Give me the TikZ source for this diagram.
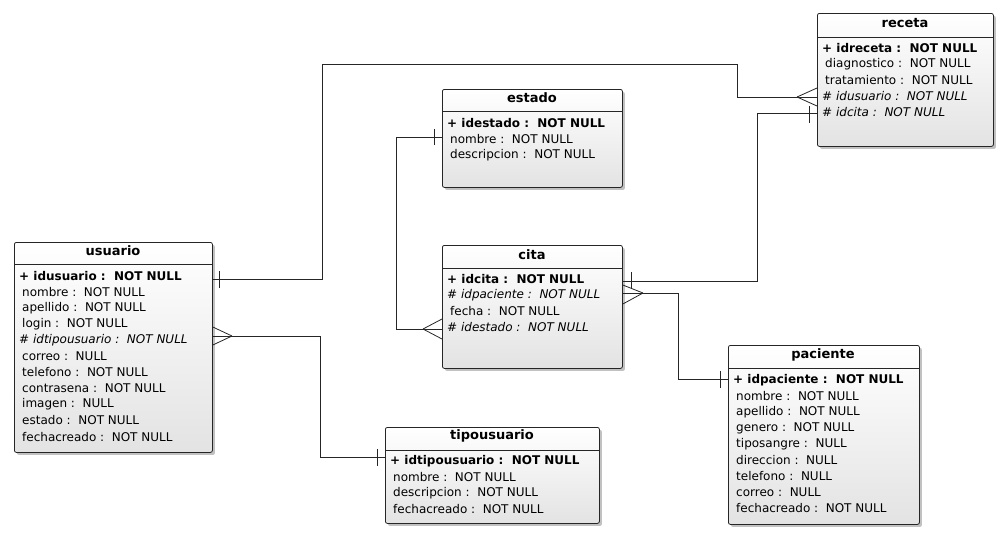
\documentclass[tikz,border=0pt]{standalone}
\usepackage{fontspec}
\setmainfont{DejaVu Sans}
\usetikzlibrary{shadows}
\begin{document}
\begin{tikzpicture}[x=1pt,y=-1pt,
  entity/.style={draw=black!85, line width=0.8pt, rounded corners=2pt,
    top color=white, bottom color=black!11,
    drop shadow={shadow xshift=2.5pt,shadow yshift=-2.5pt,opacity=0.35,fill=black!70},
    anchor=north west, inner sep=0pt},
  sep/.style={draw=black!85, line width=0.8pt},
  ttl/.style={font=\fontsize{13}{15}\selectfont\bfseries, inner sep=0pt},
  pk/.style={font=\fontsize{12}{14}\selectfont\bfseries, anchor=west, inner sep=0pt},
  fk/.style={font=\fontsize{12}{14}\selectfont\itshape, anchor=west, inner sep=0pt},
  att/.style={font=\fontsize{12}{14}\selectfont, anchor=west, inner sep=0pt},
  rel/.style={draw=black!85, line width=0.8pt}]
\useasboundingbox (0,0) rectangle (1008,539);

% ---------- receta ----------
\node[entity, minimum width=176pt, minimum height=133pt] (receta) at (817,13) {};
\draw[sep] (817,37) -- (993,37);
\node[ttl] (receta-t) at (905,23) {receta};
\node[pk] (receta-1) at (822,48) {+ idreceta :\ \ NOT NULL};
\node[att] (receta-2) at (825,64) {diagnostico :\ \ NOT NULL};
\node[att] (receta-3) at (825,80) {tratamiento :\ \ NOT NULL};
\node[fk] (receta-4) at (822,96) {\# idusuario :\ \ NOT NULL};
\node[fk] (receta-5) at (822,112) {\# idcita :\ \ NOT NULL};

% ---------- estado ----------
\node[entity, minimum width=180pt, minimum height=98pt] (estado) at (442,89) {};
\draw[sep] (442,111) -- (622,111);
\node[ttl] (estado-t) at (532,98) {estado};
\node[pk] (estado-1) at (447,123) {+ idestado :\ \ NOT NULL};
\node[att] (estado-2) at (450,139) {nombre :\ \ NOT NULL};
\node[att] (estado-3) at (450,155) {descripcion :\ \ NOT NULL};

% ---------- usuario ----------
\node[entity, minimum width=198pt, minimum height=210pt] (usuario) at (14,242) {};
\draw[sep] (14,264) -- (212,264);
\node[ttl] (usuario-t) at (113,251) {usuario};
\node[pk] (usuario-1) at (19,276) {+ idusuario :\ \ NOT NULL};
\node[att] (usuario-2) at (22,292) {nombre :\ \ NOT NULL};
\node[att] (usuario-3) at (22,308) {apellido :\ \ NOT NULL};
\node[att] (usuario-4) at (22,324) {login :\ \ NOT NULL};
\node[fk] (usuario-5) at (19,340) {\# idtipousuario :\ \ NOT NULL};
\node[att] (usuario-6) at (22,356) {correo :\ \ NULL};
\node[att] (usuario-7) at (22,372) {telefono :\ \ NOT NULL};
\node[att] (usuario-8) at (22,388) {contrasena :\ \ NOT NULL};
\node[att] (usuario-9) at (22,404) {imagen :\ \ NULL};
\node[att] (usuario-10) at (22,420) {estado :\ \ NOT NULL};
\node[att] (usuario-11) at (22,437) {fechacreado :\ \ NOT NULL};

% ---------- cita ----------
\node[entity, minimum width=180pt, minimum height=123pt] (cita) at (442,245) {};
\draw[sep] (442,268) -- (622,268);
\node[ttl] (cita-t) at (532,255) {cita};
\node[pk] (cita-1) at (447,279) {+ idcita :\ \ NOT NULL};
\node[fk] (cita-2) at (447,295) {\# idpaciente :\ \ NOT NULL};
\node[att] (cita-3) at (450,311) {fecha :\ \ NOT NULL};
\node[fk] (cita-4) at (447,327) {\# idestado :\ \ NOT NULL};

% ---------- paciente ----------
\node[entity, minimum width=191pt, minimum height=179pt] (paciente) at (728,345) {};
\draw[sep] (728,368) -- (919,368);
\node[ttl] (paciente-t) at (823,355) {paciente};
\node[pk] (paciente-1) at (733,380) {+ idpaciente :\ \ NOT NULL};
\node[att] (paciente-2) at (736,396) {nombre :\ \ NOT NULL};
\node[att] (paciente-3) at (736,412) {apellido :\ \ NOT NULL};
\node[att] (paciente-4) at (736,428) {genero :\ \ NOT NULL};
\node[att] (paciente-5) at (736,444) {tiposangre :\ \ NULL};
\node[att] (paciente-6) at (736,460) {direccion :\ \ NULL};
\node[att] (paciente-7) at (736,476) {telefono :\ \ NULL};
\node[att] (paciente-8) at (736,492) {correo :\ \ NULL};
\node[att] (paciente-9) at (736,508) {fechacreado :\ \ NOT NULL};

% ---------- tipousuario ----------
\node[entity, minimum width=214pt, minimum height=96pt] (tipousuario) at (385,427) {};
\draw[sep] (385,450) -- (599,450);
\node[ttl] (tipousuario-t) at (492,436) {tipousuario};
\node[pk] (tipousuario-1) at (390,461) {+ idtipousuario :\ \ NOT NULL};
\node[att] (tipousuario-2) at (393,477) {nombre :\ \ NOT NULL};
\node[att] (tipousuario-3) at (393,493) {descripcion :\ \ NOT NULL};
\node[att] (tipousuario-4) at (393,509) {fechacreado :\ \ NOT NULL};

% ---------- connectors ----------
% usuario -> receta (idusuario)
\coordinate (ur-a) at (usuario.east |- 0,279);
\coordinate (ur-c) at (797,97);
\draw[rel] (ur-a) -- (322,279) -- (322,64) -- (737,64) -- (737,97) -- (ur-c);
\draw[rel] (219,271) -- (219,288);
\draw[rel] (ur-c) -- (receta.west |- 0,88);
\draw[rel] (ur-c) -- (receta.west |- 0,97);
\draw[rel] (ur-c) -- (receta.west |- 0,106);

% cita -> receta (idcita)
\coordinate (cr-a) at (cita.east |- 0,281);
\coordinate (cr-b) at (receta.west |- 0,113);
\draw[rel] (cr-a) -- (757,281) -- (757,113) -- (cr-b);
\draw[rel] (631,272) -- (631,288);
\draw[rel] (809,106) -- (809,123);

% tipousuario -> usuario (idtipousuario)
\coordinate (tu-c) at (232,336);
\coordinate (tu-b) at (tipousuario.west |- 0,457);
\draw[rel] (tu-c) -- (320,336) -- (320,457) -- (tu-b);
\draw[rel] (tu-c) -- (usuario.east |- 0,327);
\draw[rel] (tu-c) -- (usuario.east |- 0,336);
\draw[rel] (tu-c) -- (usuario.east |- 0,345);
\draw[rel] (377,449) -- (377,466);

% estado -> cita (idestado)
\coordinate (ec-a) at (estado.west |- 0,137);
\coordinate (ec-c) at (423,329);
\draw[rel] (ec-a) -- (396,137) -- (396,329) -- (ec-c);
\draw[rel] (434,129) -- (434,145);
\draw[rel] (ec-c) -- (cita.west |- 0,319);
\draw[rel] (ec-c) -- (cita.west |- 0,329);
\draw[rel] (ec-c) -- (cita.west |- 0,339);

% paciente -> cita (idpaciente)
\coordinate (pc-c) at (643,293);
\coordinate (pc-b) at (paciente.west |- 0,379);
\draw[rel] (pc-c) -- (678,293) -- (678,379) -- (pc-b);
\draw[rel] (pc-c) -- (cita.east |- 0,285);
\draw[rel] (pc-c) -- (cita.east |- 0,293);
\draw[rel] (pc-c) -- (cita.east |- 0,304);
\draw[rel] (720,371) -- (720,388);
\end{tikzpicture}
\end{document}
